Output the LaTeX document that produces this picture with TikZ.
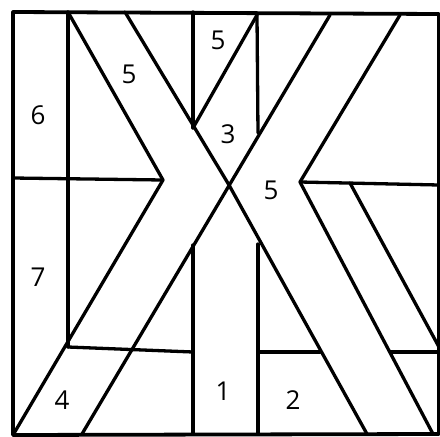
\documentclass[tikz,border=0pt]{standalone}
\usepackage{fontspec}
\setmainfont{Open Sans}
\begin{document}
\begin{tikzpicture}[x=1pt,y=-1pt,
  seam/.style={line width=3.3pt,line cap=round,line join=round},
  frame/.style={line width=3.8pt,line join=round},
  lbl/.style={font=\fontsize{26}{26}\selectfont,inner sep=0pt}]
\useasboundingbox (0,0) rectangle (440,437);
% named coordinates
\coordinate (TL) at (13,12);
\coordinate (TR) at (439,14);
\coordinate (BR) at (439,434);
\coordinate (BL) at (13,435);
\coordinate (a1) at (68,12);
\coordinate (a2) at (68,347);
\coordinate (lm) at (13,178);
\coordinate (ltip) at (163,180);
\coordinate (b1) at (193,352);
\coordinate (c1) at (193,12);
\coordinate (c2) at (193,128);
\coordinate (d1) at (257,15);
\coordinate (d2) at (258,133);
\coordinate (A1) at (125,12);
\coordinate (X) at (229,185);
\coordinate (A2) at (367,434);
\coordinate (C1) at (330,15);
\coordinate (C2) at (82,434);
\coordinate (e1) at (193,245);
\coordinate (e2) at (193,434);
\coordinate (f1) at (258,244);
\coordinate (f2) at (258,434);
\coordinate (g1) at (258,352);
\coordinate (g2) at (320,352);
\coordinate (R1) at (400,15);
\coordinate (rtip) at (300,182);
\coordinate (R2) at (433,434);
\coordinate (rm) at (439,185);
\coordinate (h1) at (350,183);
\coordinate (h2) at (439,347);
\coordinate (k1) at (390,352);
\coordinate (k2) at (439,352);
% outer frame
\draw[frame] (TL) -- (TR) -- (BR) -- (BL) -- cycle;
% seams
\draw[seam] (a1) -- (a2);
\draw[seam] (lm) -- (ltip);
\draw[seam] (a1) -- (ltip) -- (BL);
\draw[seam] (a2) -- (b1);
\draw[seam] (c1) -- (c2);
\draw[seam] (c2) -- (d1);
\draw[seam] (d1) -- (d2);
\draw[seam] (A1) -- (X) -- (A2);
\draw[seam] (C1) -- (C2);
\draw[seam] (e1) -- (e2);
\draw[seam] (f1) -- (f2);
\draw[seam] (g1) -- (g2);
\draw[seam] (R1) -- (rtip) -- (R2);
\draw[seam] (rtip) -- (rm);
\draw[seam] (h1) -- (h2);
\draw[seam] (k1) -- (k2);
% labels
\node[lbl] (n6) at (38,115) {6};
\node[lbl] (n5a) at (129,74) {5};
\node[lbl] (n5b) at (218,40) {5};
\node[lbl] (n3) at (228,134) {3};
\node[lbl] (n5c) at (271,190) {5};
\node[lbl] (n7) at (38,277) {7};
\node[lbl] (n4) at (62,400) {4};
\node[lbl] (n1) at (223,391) {1};
\node[lbl] (n2) at (293,400) {2};
\end{tikzpicture}
\end{document}
